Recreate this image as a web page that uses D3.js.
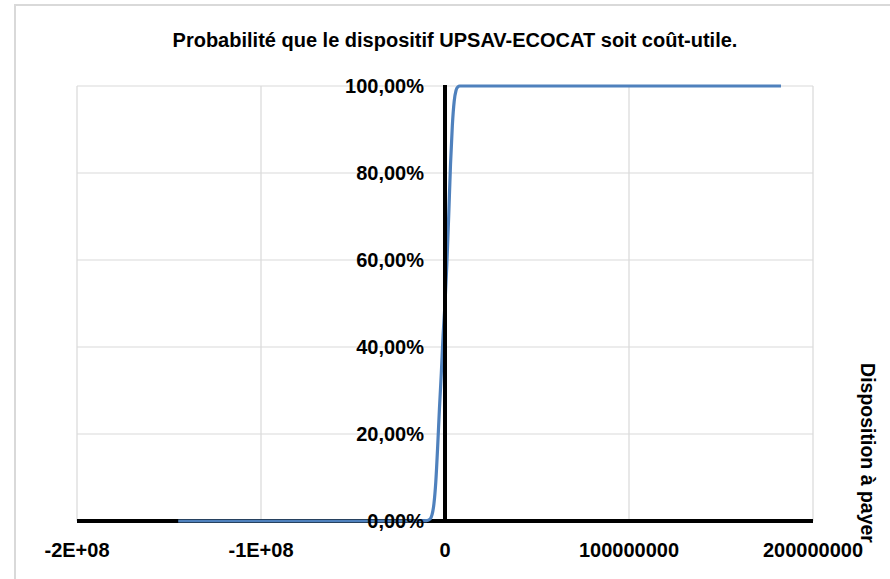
<!DOCTYPE html>
<html>
<head>
<meta charset="utf-8">
<script src="https://cdn.jsdelivr.net/npm/d3@7"></script>
<style>
  html, body { margin: 0; padding: 0; background: #fff; }
  svg { display: block; font-family: "Liberation Sans", Arial, sans-serif; font-weight: bold; }
</style>
</head>
<body>
<svg id="chart" width="890" height="579"></svg>
<script>
// Cumulative probability of cost-utility against willingness to pay
const wtpValues = [-145000000, -50000000, -20000000, -10000000, -8000000, -7000000, -6000000,
  -5000000, -4000000, -3000000, -2000000, -1000000, 0, 1000000, 2000000, 3000000, 4000000,
  5000000, 6000000, 7000000, 8000000, 20000000, 182600000];
const probValues = [0, 0, 0, 0.001, 0.005, 0.015, 0.04, 0.09, 0.17, 0.26, 0.34, 0.43, 0.5,
  0.59, 0.7, 0.82, 0.91, 0.965, 0.99, 0.998, 1, 1, 1];

const xTicks = [-200000000, -100000000, 0, 100000000, 200000000];
const xTickLabels = ["-2E+08", "-1E+08", "0", "100000000", "200000000"];
const yTicks = [0, 0.2, 0.4, 0.6, 0.8, 1];
const yTickLabels = ["0,00%", "20,00%", "40,00%", "60,00%", "80,00%", "100,00%"];

const titleText = "Probabilité que le dispositif UPSAV-ECOCAT soit coût-utile.";
const axisTitle = "Disposition à payer";

const svg = d3.select("#chart");

// outer chart frame
svg.append("rect")
  .attr("x", 15).attr("y", 5)
  .attr("width", 900).attr("height", 600)
  .attr("fill", "#fff")
  .attr("stroke", "#d9d9d9").attr("stroke-width", 2);

const x = d3.scaleLinear().domain([-200000000, 200000000]).range([77, 813]);
const y = d3.scaleLinear().domain([0, 1]).range([521, 86]);

// gridlines
const grid = svg.append("g").attr("stroke", "#d9d9d9").attr("stroke-width", 1.2);
grid.selectAll("line.v").data(xTicks).join("line")
  .attr("x1", d => x(d)).attr("x2", d => x(d))
  .attr("y1", y(1)).attr("y2", y(0));
grid.selectAll("line.h").data(yTicks).join("line")
  .attr("x1", x(-200000000)).attr("x2", x(200000000))
  .attr("y1", d => y(d)).attr("y2", d => y(d));

// horizontal axis line
svg.append("line")
  .attr("x1", x(-200000000)).attr("x2", x(200000000))
  .attr("y1", y(0)).attr("y2", y(0))
  .attr("stroke", "#000").attr("stroke-width", 4);

// curve
const pts = wtpValues.map((v, i) => [v, probValues[i]]);
const line = d3.line()
  .x(d => x(d[0])).y(d => y(d[1]))
  .curve(d3.curveMonotoneX);
svg.append("path")
  .datum(pts)
  .attr("d", line)
  .attr("fill", "none")
  .attr("stroke", "#4f81bd")
  .attr("stroke-width", 3.2)
  .attr("stroke-linejoin", "round");

// vertical axis line at zero
svg.append("line")
  .attr("x1", x(0)).attr("x2", x(0))
  .attr("y1", y(1) - 1).attr("y2", y(0) + 2)
  .attr("stroke", "#000").attr("stroke-width", 4);

// y tick labels
svg.append("g").selectAll("text").data(yTicks).join("text")
  .attr("x", x(0) - 21)
  .attr("y", d => y(d))
  .attr("dy", "0.36em")
  .attr("text-anchor", "end")
  .attr("font-size", 20)
  .attr("fill", "#000")
  .text((d, i) => yTickLabels[i]);

// x tick labels
svg.append("g").selectAll("text").data(xTicks).join("text")
  .attr("x", d => x(d))
  .attr("y", 557)
  .attr("text-anchor", "middle")
  .attr("font-size", 20)
  .attr("fill", "#000")
  .text((d, i) => xTickLabels[i]);

// title
svg.append("text")
  .attr("x", 455).attr("y", 47)
  .attr("text-anchor", "middle")
  .attr("font-size", 20)
  .attr("fill", "#000")
  .text(titleText);

// axis title, rotated
svg.append("text")
  .attr("transform", "translate(861,453) rotate(90)")
  .attr("text-anchor", "middle")
  .attr("font-size", 19.5)
  .attr("fill", "#000")
  .text(axisTitle);
</script>
</body>
</html>
